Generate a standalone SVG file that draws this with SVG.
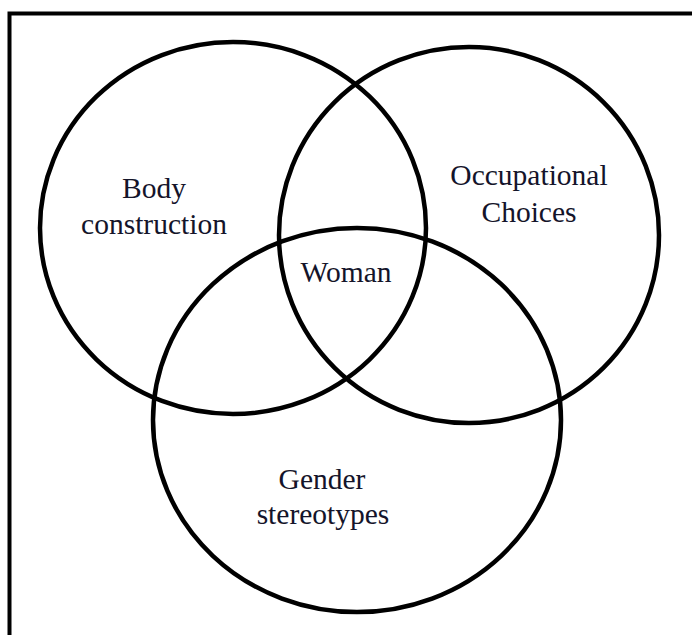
<svg xmlns="http://www.w3.org/2000/svg" width="692" height="635" viewBox="0 0 692 635">
<style>
.c{fill:none;stroke:#000;stroke-width:4.5}
.t{font-family:"Liberation Serif","Times New Roman",serif;font-size:29.5px;fill:#14142a;text-anchor:middle}
</style>
<rect x="0" y="0" width="692" height="635" fill="#fff"/>
<path d="M9.5,640 V13.5 H700" fill="none" stroke="#000" stroke-width="4"/>
<g id="body">
<ellipse class="c" cx="233" cy="228" rx="193" ry="186"/>
<text class="t" x="154" y="198">Body</text>
<text class="t" x="154" y="234">construction</text>
</g>
<g id="occupational">
<ellipse class="c" cx="469" cy="235" rx="190" ry="188"/>
<text class="t" x="529" y="185">Occupational</text>
<text class="t" x="529" y="222">Choices</text>
</g>
<g id="gender">
<ellipse class="c" cx="357" cy="420" rx="204" ry="192"/>
<text class="t" x="322" y="489">Gender</text>
<text class="t" x="323" y="524">stereotypes</text>
</g>
<g id="woman">
<text class="t" x="346" y="282">Woman</text>
</g>
<g id="connectors"></g>
</svg>
